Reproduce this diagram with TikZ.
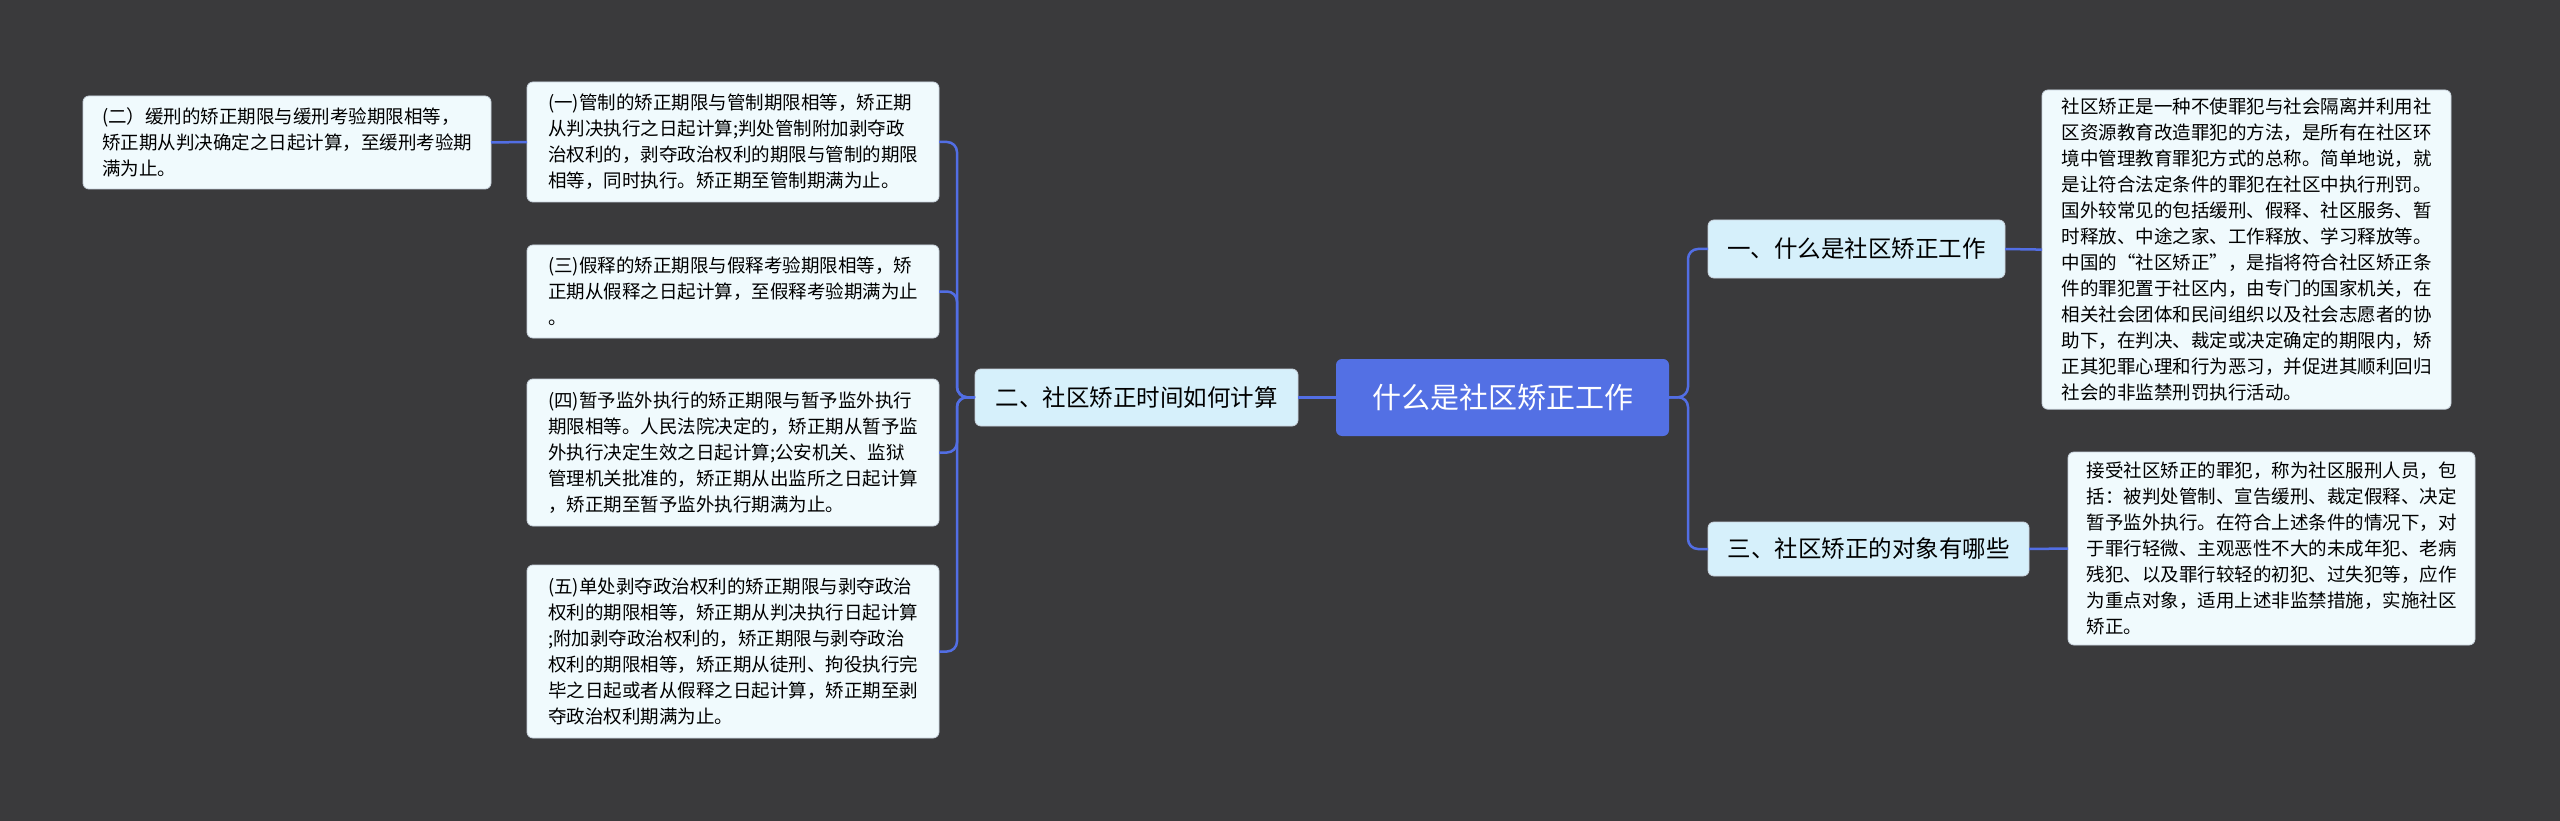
\documentclass[tikz,border=0pt]{standalone}
\usepackage{fontspec}
\newfontfamily\cjk{Noto Sans CJK SC}
\begin{document}
\begin{tikzpicture}[x=1pt,y=-1pt,
  every node/.style={inner sep=0pt,outer sep=0pt},
  conn/.style={draw=linkblue,line width=2.5pt,rounded corners=10pt},
  leaf/.style={anchor=north west,fill=leafbg,draw=leafbd,line width=0.8pt,rounded corners=6pt,align=left,text=black,font=\cjk\fontsize{18.5}{26}\selectfont,inner xsep=10pt,inner ysep=8pt},
  mid/.style={fill=midbg,draw=leafbd,line width=0.8pt,rounded corners=6pt,text=black,font=\cjk\fontsize{23.5}{28}\selectfont,anchor=north west,align=center}]
\definecolor{bg}{RGB}{58,58,60}
\definecolor{linkblue}{RGB}{82,110,228}
\definecolor{leafbg}{RGB}{240,250,253}
\definecolor{leafbd}{RGB}{200,210,220}
\definecolor{midbg}{RGB}{214,240,251}
\definecolor{rootbg}{RGB}{83,112,228}
\fill[bg] (0,0) rectangle (2560,821);
\useasboundingbox (0,0) rectangle (2560,821);

\node[fill=rootbg,rounded corners=6pt,anchor=north west,minimum width=333pt,minimum height=77pt,text=white,font=\cjk\fontsize{29}{34}\selectfont] (root) at (1336,359) {什么是社区矫正工作};

\node[mid,minimum width=297pt,minimum height=58pt] (a) at (1708,220) {一、什么是社区矫正工作};
\node[mid,minimum width=321pt,minimum height=54pt] (c) at (1708,522) {三、社区矫正的对象有哪些};
\node[mid,minimum width=323pt,minimum height=57pt] (b) at (975,369) {二、社区矫正时间如何计算};

\node[leaf,minimum width=409pt,minimum height=318pt] (ad) at (2042,90) {社区矫正是一种不使罪犯与社会隔离并利用社\\区资源教育改造罪犯的方法，是所有在社区环\\境中管理教育罪犯方式的总称。简单地说，就\\是让符合法定条件的罪犯在社区中执行刑罚。\\国外较常见的包括缓刑、假释、社区服务、暂\\时释放、中途之家、工作释放、学习释放等。\\中国的“社区矫正”，是指将符合社区矫正条\\件的罪犯置于社区内，由专门的国家机关，在\\相关社会团体和民间组织以及社会志愿者的协\\助下，在判决、裁定或决定确定的期限内，矫\\正其犯罪心理和行为恶习，并促进其顺利回归\\社会的非监禁刑罚执行活动。};

\node[leaf,minimum width=407pt,minimum height=193pt] (cd) at (2068,452) {接受社区矫正的罪犯，称为社区服刑人员，包\\括：被判处管制、宣告缓刑、裁定假释、决定\\暂予监外执行。在符合上述条件的情况下，对\\于罪行轻微、主观恶性不大的未成年犯、老病\\残犯、以及罪行较轻的初犯、过失犯等，应作\\为重点对象，适用上述非监禁措施，实施社区\\矫正。};

\node[leaf,minimum width=412pt,minimum height=120pt] (b1) at (527,82) {(一)管制的矫正期限与管制期限相等，矫正期\\从判决执行之日起计算;判处管制附加剥夺政\\治权利的，剥夺政治权利的期限与管制的期限\\相等，同时执行。矫正期至管制期满为止。};
\node[leaf,minimum width=412pt,minimum height=93pt] (b3) at (527,245) {(三)假释的矫正期限与假释考验期限相等，矫\\正期从假释之日起计算，至假释考验期满为止\\。};
\node[leaf,minimum width=412pt,minimum height=147pt] (b4) at (527,379) {(四)暂予监外执行的矫正期限与暂予监外执行\\期限相等。人民法院决定的，矫正期从暂予监\\外执行决定生效之日起计算;公安机关、监狱\\管理机关批准的，矫正期从出监所之日起计算\\，矫正期至暂予监外执行期满为止。};
\node[leaf,minimum width=412pt,minimum height=173pt] (b5) at (527,565) {(五)单处剥夺政治权利的矫正期限与剥夺政治\\权利的期限相等，矫正期从判决执行日起计算\\;附加剥夺政治权利的，矫正期限与剥夺政治\\权利的期限相等，矫正期从徒刑、拘役执行完\\毕之日起或者从假释之日起计算，矫正期至剥\\夺政治权利期满为止。};
\node[leaf,minimum width=408pt,minimum height=93pt] (b2) at (83,96) {(二）缓刑的矫正期限与缓刑考验期限相等，\\矫正期从判决确定之日起计算，至缓刑考验期\\满为止。};

\coordinate (rt) at (1688,397);
\draw[conn] (root.east) -- (rt) |- (a.west);
\draw[conn] (root.east) -- (rt) |- (c.west);
\draw[conn] (a.east) -- (ad.west);
\draw[conn] (c.east) -- (cd.west);
\draw[conn] (root.west) -- (b.east);
\coordinate (lt) at (957,397);
\foreach \n in {b1,b3,b4,b5}{\draw[conn] (b.west) -- (lt) |- (\n.east);}
\draw[conn] (b1.west) -- (b2.east);
\end{tikzpicture}
\end{document}
